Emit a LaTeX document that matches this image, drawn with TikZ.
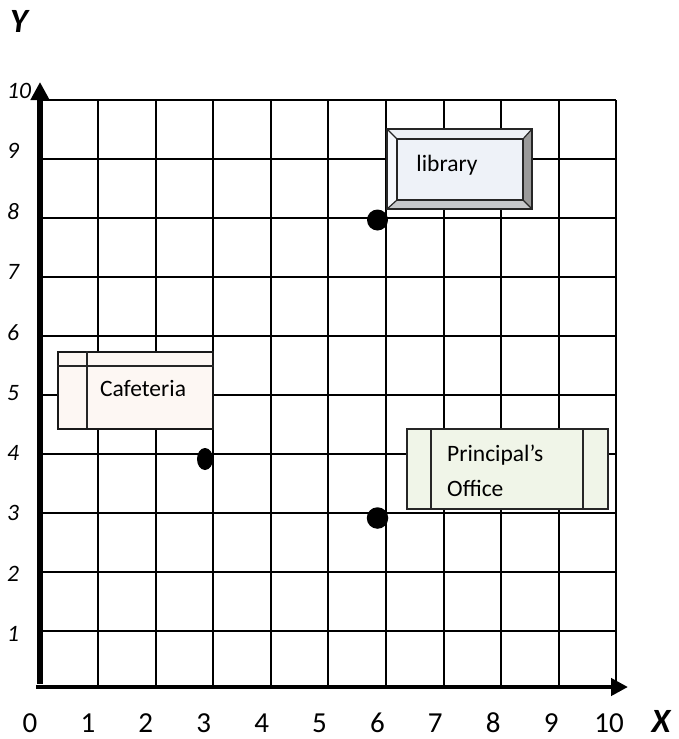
\documentclass[tikz,border=0pt]{standalone}
\usepackage{fontspec}
\setmainfont{Carlito}
\usetikzlibrary{arrows.meta,shapes.geometric}
\definecolor{cafefill}{HTML}{FDF7F3}
\definecolor{offfill}{HTML}{F0F5E8}
\definecolor{libfill}{HTML}{EEF2F8}
\definecolor{bevlight}{HTML}{F6F8FC}
\definecolor{bevtop}{HTML}{EEF1F6}
\definecolor{bevdark}{HTML}{9A9A9A}
\definecolor{bevmid}{HTML}{C6C8CB}
\tikzset{
  gridline/.style={line width=2pt, black},
  boxline/.style={line width=1.8pt, black!85},
  boxtext/.style={font=\fontsize{23.5}{28}\selectfont, inner sep=0pt},
  ylab/.style={font=\fontsize{23.5}{28}\selectfont\itshape, inner sep=0pt, anchor=base},
  xlab/.style={font=\fontsize{29}{34}\selectfont, inner sep=0pt, anchor=base},
  axislab/.style={font=\fontsize{34}{40}\selectfont\bfseries\itshape, inner sep=0pt, anchor=base},
  dotmark/.style={fill=black, inner sep=0pt}
}
\begin{document}
\begin{tikzpicture}[x=1pt,y=-1pt]
\useasboundingbox (0,0) rectangle (678,739);
% grid
\foreach \i in {1,...,10}
  \draw[gridline] ({40.4+57.6*\i},100) -- ({40.4+57.6*\i},687);
\foreach \j in {1,...,10}
  \draw[gridline] (40,{100+(10-\j)*59}) -- (616.4,{100+(10-\j)*59});
% axes
\coordinate (yb) at (40,684);
\coordinate (yt) at (40,82);
\coordinate (xl) at (36,687);
\coordinate (xr) at (628,687);
\draw[line width=6pt, -{Triangle[length=18pt,width=18pt]}] (yb) -- (yt);
\draw[line width=4.5pt, -{Triangle[length=17pt,width=17pt]}] (xl) -- (xr);
% axis names
\node[axislab] (Ylab) at (19,32) {Y};
\node[axislab] (Xlab) at (661,732) {X};
% y tick labels
\node[ylab] (y10) at (19,98.5) {10};
\foreach \j/\yy in {9/151,8/212,7/272,6/333,5/393,4/453,3/513,2/574,1/634}
  \node[ylab] (y\j) at (13,\yy+7.5) {\j};
% x tick labels
\foreach \i in {0,...,10}
  \node[xlab] (x\i) at ({30+57.9*\i},732) {\i};
% Library bevel box
\coordinate (LoTL) at (387,129); \coordinate (LoTR) at (532,129);
\coordinate (LoBR) at (532,209); \coordinate (LoBL) at (387,209);
\coordinate (LiTL) at (397,139); \coordinate (LiTR) at (523,139);
\coordinate (LiBR) at (523,200); \coordinate (LiBL) at (397,200);
\fill[bevtop] (LoTL) -- (LoTR) -- (LiTR) -- (LiTL) -- cycle;
\fill[bevlight] (LoTL) -- (LiTL) -- (LiBL) -- (LoBL) -- cycle;
\fill[bevdark] (LoTR) -- (LoBR) -- (LiBR) -- (LiTR) -- cycle;
\fill[bevmid] (LoBL) -- (LiBL) -- (LiBR) -- (LoBR) -- cycle;
\fill[libfill] (LiTL) rectangle (LiBR);
\draw[boxline] (LoTL) rectangle (LoBR);
\draw[boxline] (LiTL) rectangle (LiBR);
\draw[boxline, line width=1.2pt] (LoTL) -- (LiTL) (LoTR) -- (LiTR) (LoBR) -- (LiBR) (LoBL) -- (LiBL);
\node[boxtext] (lib) at (447,165) {library};
% Cafeteria box
\node[draw=black!90, line width=2pt, fill=cafefill, minimum width=155pt, minimum height=77pt, anchor=north west, inner sep=0pt] (cafe) at (57,351) {};
\draw[boxline] (cafe.north west |- 0,366) -- (cafe.north east |- 0,366);
\draw[boxline] (87,351) -- (87,428);
\node[boxtext] (cafetxt) at (143,388) {Cafeteria};
% Principal's office box
\node[draw=black!85, line width=1.8pt, fill=offfill, minimum width=201pt, minimum height=80pt, anchor=north west, inner sep=0pt] (office) at (406,428) {};
\draw[boxline] (431,428) -- (431,508);
\draw[boxline] (583,428) -- (583,508);
\node[boxtext, anchor=west] (offtxt1) at (447,455) {Principal’s};
\node[boxtext, anchor=west] (offtxt2) at (447,488) {Office};
% points
\node[dotmark, circle, minimum size=21pt] (pA) at (377.5,220) {};
\node[dotmark, ellipse, minimum width=16pt, minimum height=22pt] (pB) at (205,459) {};
\node[dotmark, circle, minimum size=21.5pt] (pC) at (377.5,518) {};
\end{tikzpicture}
\end{document}
